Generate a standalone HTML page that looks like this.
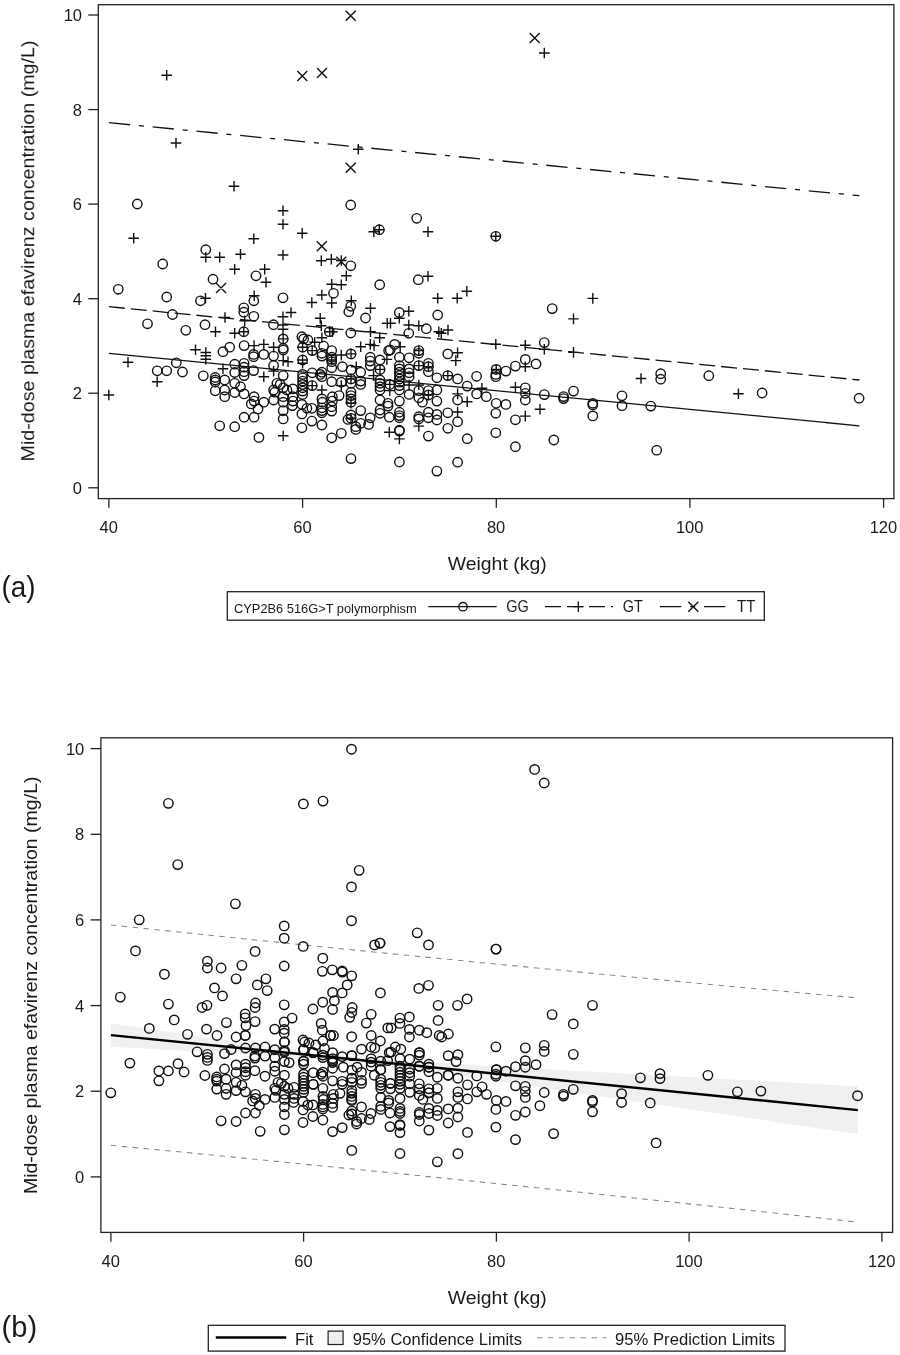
<!DOCTYPE html><html><head><meta charset="utf-8"><title>Chart</title><style>html,body{margin:0;padding:0;background:#fff}svg{display:block}text{font-family:"Liberation Sans",sans-serif;fill:#1a1a1a}</style></head><body>
<svg width="900" height="1355" viewBox="0 0 900 1355">
<rect width="900" height="1355" fill="#fff"/>
<g opacity="0.999">
<g fill="none" stroke="#111" stroke-width="1.3">
<line x1="108.9" y1="353.3" x2="859.4" y2="425.8"/>
<line x1="108.9" y1="306.7" x2="859.4" y2="380" stroke-dasharray="16 5.97"/>
<line x1="108.9" y1="122.7" x2="859.4" y2="195.7" stroke-dasharray="21.3 8.8 5.05 8.8"/>
</g>
<g fill="none" stroke="#111" stroke-width="1.4">
<circle cx="137.3" cy="204" r="4.7"/>
<circle cx="350.7" cy="205" r="4.7"/>
<circle cx="416.7" cy="218.3" r="4.7"/>
<circle cx="205.8" cy="249.7" r="4.7"/>
<circle cx="162.7" cy="264" r="4.7"/>
<circle cx="213" cy="279.2" r="4.7"/>
<circle cx="118.3" cy="289.3" r="4.7"/>
<circle cx="166.7" cy="297" r="4.7"/>
<circle cx="200.5" cy="300.8" r="4.7"/>
<circle cx="172.5" cy="314.5" r="4.7"/>
<circle cx="147.5" cy="323.8" r="4.7"/>
<circle cx="205" cy="324.7" r="4.7"/>
<circle cx="185.8" cy="330.3" r="4.7"/>
<circle cx="379.3" cy="229.7" r="4.7"/>
<circle cx="350.8" cy="265.8" r="4.7"/>
<circle cx="256" cy="275.8" r="4.7"/>
<circle cx="379.7" cy="284.7" r="4.7"/>
<circle cx="253.8" cy="300.8" r="4.7"/>
<circle cx="283" cy="297.8" r="4.7"/>
<circle cx="333.5" cy="293.3" r="4.7"/>
<circle cx="350.8" cy="306.3" r="4.7"/>
<circle cx="348.8" cy="311.7" r="4.7"/>
<circle cx="365.5" cy="318" r="4.7"/>
<circle cx="243.8" cy="307.8" r="4.7"/>
<circle cx="243.8" cy="312.2" r="4.7"/>
<circle cx="253.8" cy="316.3" r="4.7"/>
<circle cx="273.5" cy="324.7" r="4.7"/>
<circle cx="243.8" cy="331.7" r="4.7"/>
<circle cx="329.3" cy="331.7" r="4.7"/>
<circle cx="350.8" cy="333" r="4.7"/>
<circle cx="495.8" cy="236.3" r="4.7"/>
<circle cx="418.3" cy="279.7" r="4.7"/>
<circle cx="399.3" cy="312.5" r="4.7"/>
<circle cx="437.7" cy="315" r="4.7"/>
<circle cx="426.3" cy="328.7" r="4.7"/>
<circle cx="408.8" cy="333.3" r="4.7"/>
<circle cx="552.2" cy="308.6" r="4.7"/>
<circle cx="544.3" cy="342.6" r="4.7"/>
<circle cx="536" cy="363.9" r="4.7"/>
<circle cx="660.7" cy="373.7" r="4.7"/>
<circle cx="660.7" cy="379.2" r="4.7"/>
<circle cx="708.8" cy="375.7" r="4.7"/>
<circle cx="762.1" cy="393" r="4.7"/>
<circle cx="859.1" cy="398.2" r="4.7"/>
<circle cx="544.3" cy="394.6" r="4.7"/>
<circle cx="563.6" cy="396.6" r="4.7"/>
<circle cx="563.6" cy="398.6" r="4.7"/>
<circle cx="573.5" cy="391.1" r="4.7"/>
<circle cx="592.8" cy="403.3" r="4.7"/>
<circle cx="592.8" cy="404.9" r="4.7"/>
<circle cx="592.8" cy="415.9" r="4.7"/>
<circle cx="622" cy="395.8" r="4.7"/>
<circle cx="622" cy="405.7" r="4.7"/>
<circle cx="650.8" cy="406.1" r="4.7"/>
<circle cx="553.8" cy="440" r="4.7"/>
<circle cx="656.7" cy="450.2" r="4.7"/>
<circle cx="157.2" cy="370.8" r="4.7"/>
<circle cx="166.7" cy="370.8" r="4.7"/>
<circle cx="176.3" cy="362.8" r="4.7"/>
<circle cx="182.5" cy="372" r="4.7"/>
<circle cx="203.3" cy="375.8" r="4.7"/>
<circle cx="223" cy="351.7" r="4.7"/>
<circle cx="229.7" cy="347.2" r="4.7"/>
<circle cx="234.7" cy="364.2" r="4.7"/>
<circle cx="234.7" cy="372.5" r="4.7"/>
<circle cx="215.2" cy="377.5" r="4.7"/>
<circle cx="215.2" cy="380" r="4.7"/>
<circle cx="215.2" cy="382" r="4.7"/>
<circle cx="224.7" cy="380" r="4.7"/>
<circle cx="234.7" cy="383.3" r="4.7"/>
<circle cx="240.5" cy="386.7" r="4.7"/>
<circle cx="215.2" cy="390.8" r="4.7"/>
<circle cx="224.7" cy="390" r="4.7"/>
<circle cx="234.7" cy="392.5" r="4.7"/>
<circle cx="224.7" cy="396.7" r="4.7"/>
<circle cx="219.7" cy="425.8" r="4.7"/>
<circle cx="234.7" cy="426.7" r="4.7"/>
<circle cx="244.1" cy="345.6" r="4.7"/>
<circle cx="244.1" cy="363.3" r="4.7"/>
<circle cx="244.1" cy="367.2" r="4.7"/>
<circle cx="244.1" cy="371.7" r="4.7"/>
<circle cx="244.1" cy="375.6" r="4.7"/>
<circle cx="244.1" cy="393.9" r="4.7"/>
<circle cx="253.6" cy="354.4" r="4.7"/>
<circle cx="253.6" cy="356.7" r="4.7"/>
<circle cx="253.6" cy="370.6" r="4.7"/>
<circle cx="254.1" cy="396.7" r="4.7"/>
<circle cx="254.1" cy="401.1" r="4.7"/>
<circle cx="263.8" cy="354.4" r="4.7"/>
<circle cx="263.8" cy="402.2" r="4.7"/>
<circle cx="273.6" cy="356.1" r="4.7"/>
<circle cx="273.6" cy="365.6" r="4.7"/>
<circle cx="273.6" cy="390" r="4.7"/>
<circle cx="274.7" cy="392.2" r="4.7"/>
<circle cx="276.9" cy="383.3" r="4.7"/>
<circle cx="273.6" cy="400" r="4.7"/>
<circle cx="283.2" cy="338.9" r="4.7"/>
<circle cx="283.2" cy="348.3" r="4.7"/>
<circle cx="283.2" cy="350" r="4.7"/>
<circle cx="283.2" cy="375.6" r="4.7"/>
<circle cx="280.2" cy="384.4" r="4.7"/>
<circle cx="283.2" cy="387.8" r="4.7"/>
<circle cx="283.2" cy="396.7" r="4.7"/>
<circle cx="283.2" cy="402.2" r="4.7"/>
<circle cx="286.9" cy="390" r="4.7"/>
<circle cx="292.9" cy="388.9" r="4.7"/>
<circle cx="292.9" cy="396.7" r="4.7"/>
<circle cx="292.9" cy="401.1" r="4.7"/>
<circle cx="301.9" cy="336.7" r="4.7"/>
<circle cx="303.6" cy="338.9" r="4.7"/>
<circle cx="302.6" cy="347.2" r="4.7"/>
<circle cx="302.6" cy="360" r="4.7"/>
<circle cx="302.6" cy="374.4" r="4.7"/>
<circle cx="302.6" cy="377.8" r="4.7"/>
<circle cx="302.6" cy="381.1" r="4.7"/>
<circle cx="302.6" cy="384.4" r="4.7"/>
<circle cx="302.6" cy="387.8" r="4.7"/>
<circle cx="302.6" cy="391.1" r="4.7"/>
<circle cx="302.6" cy="394.4" r="4.7"/>
<circle cx="308" cy="340" r="4.7"/>
<circle cx="312.2" cy="350.6" r="4.7"/>
<circle cx="312.2" cy="372.8" r="4.7"/>
<circle cx="312.2" cy="385.6" r="4.7"/>
<circle cx="323.6" cy="346.1" r="4.7"/>
<circle cx="321.9" cy="353.3" r="4.7"/>
<circle cx="321.9" cy="356.1" r="4.7"/>
<circle cx="321.9" cy="372.2" r="4.7"/>
<circle cx="321.9" cy="376.7" r="4.7"/>
<circle cx="320.2" cy="374.4" r="4.7"/>
<circle cx="321.9" cy="398.9" r="4.7"/>
<circle cx="322.4" cy="402.2" r="4.7"/>
<circle cx="331.7" cy="350.6" r="4.7"/>
<circle cx="331.7" cy="357.2" r="4.7"/>
<circle cx="331.7" cy="359.4" r="4.7"/>
<circle cx="331.7" cy="361.7" r="4.7"/>
<circle cx="331.7" cy="367.8" r="4.7"/>
<circle cx="331.7" cy="381.7" r="4.7"/>
<circle cx="332.4" cy="396.7" r="4.7"/>
<circle cx="332.4" cy="401.1" r="4.7"/>
<circle cx="244.1" cy="417.2" r="4.7"/>
<circle cx="254.1" cy="417.2" r="4.7"/>
<circle cx="258" cy="408.9" r="4.7"/>
<circle cx="251.3" cy="403.9" r="4.7"/>
<circle cx="283.2" cy="410.6" r="4.7"/>
<circle cx="283.2" cy="418.9" r="4.7"/>
<circle cx="292.4" cy="405.6" r="4.7"/>
<circle cx="301.9" cy="404.4" r="4.7"/>
<circle cx="301.9" cy="413.9" r="4.7"/>
<circle cx="306.9" cy="408.3" r="4.7"/>
<circle cx="311.9" cy="408.3" r="4.7"/>
<circle cx="311.9" cy="421.1" r="4.7"/>
<circle cx="321.9" cy="425" r="4.7"/>
<circle cx="301.9" cy="427.8" r="4.7"/>
<circle cx="258.9" cy="437.4" r="4.7"/>
<circle cx="331.7" cy="437.8" r="4.7"/>
<circle cx="321.9" cy="407.8" r="4.7"/>
<circle cx="321.9" cy="410.6" r="4.7"/>
<circle cx="321.9" cy="412.8" r="4.7"/>
<circle cx="331.7" cy="406.7" r="4.7"/>
<circle cx="331.7" cy="411.1" r="4.7"/>
<circle cx="342.4" cy="366.7" r="4.7"/>
<circle cx="341.3" cy="382.2" r="4.7"/>
<circle cx="339.1" cy="395.6" r="4.7"/>
<circle cx="351" cy="353.9" r="4.7"/>
<circle cx="351" cy="370" r="4.7"/>
<circle cx="351" cy="378.9" r="4.7"/>
<circle cx="351" cy="383.3" r="4.7"/>
<circle cx="351" cy="392.2" r="4.7"/>
<circle cx="351" cy="395.6" r="4.7"/>
<circle cx="351" cy="398.9" r="4.7"/>
<circle cx="351" cy="402.2" r="4.7"/>
<circle cx="360.7" cy="372.2" r="4.7"/>
<circle cx="360.7" cy="381.1" r="4.7"/>
<circle cx="360.7" cy="384.4" r="4.7"/>
<circle cx="370.3" cy="357.2" r="4.7"/>
<circle cx="370.3" cy="361.1" r="4.7"/>
<circle cx="370.3" cy="365.6" r="4.7"/>
<circle cx="380" cy="360" r="4.7"/>
<circle cx="380" cy="369.4" r="4.7"/>
<circle cx="380" cy="380" r="4.7"/>
<circle cx="380" cy="383.3" r="4.7"/>
<circle cx="380" cy="386.7" r="4.7"/>
<circle cx="380" cy="390" r="4.7"/>
<circle cx="380" cy="400" r="4.7"/>
<circle cx="388.6" cy="350.6" r="4.7"/>
<circle cx="390.2" cy="350" r="4.7"/>
<circle cx="389.8" cy="384.4" r="4.7"/>
<circle cx="388" cy="403.3" r="4.7"/>
<circle cx="394.7" cy="344.4" r="4.7"/>
<circle cx="399.4" cy="357.2" r="4.7"/>
<circle cx="399.4" cy="365.6" r="4.7"/>
<circle cx="399.4" cy="368.9" r="4.7"/>
<circle cx="399.4" cy="372.2" r="4.7"/>
<circle cx="399.4" cy="375.6" r="4.7"/>
<circle cx="399.4" cy="378.9" r="4.7"/>
<circle cx="399.4" cy="382.2" r="4.7"/>
<circle cx="399.4" cy="385.6" r="4.7"/>
<circle cx="399.4" cy="390" r="4.7"/>
<circle cx="399.4" cy="401.1" r="4.7"/>
<circle cx="409.1" cy="357.8" r="4.7"/>
<circle cx="409.1" cy="368.9" r="4.7"/>
<circle cx="409.1" cy="372.8" r="4.7"/>
<circle cx="409.1" cy="376.7" r="4.7"/>
<circle cx="409.1" cy="394.4" r="4.7"/>
<circle cx="418.8" cy="350.6" r="4.7"/>
<circle cx="418.8" cy="353.3" r="4.7"/>
<circle cx="418.8" cy="365.6" r="4.7"/>
<circle cx="418.8" cy="390.6" r="4.7"/>
<circle cx="418.8" cy="397.8" r="4.7"/>
<circle cx="428.4" cy="363.3" r="4.7"/>
<circle cx="428.4" cy="366.7" r="4.7"/>
<circle cx="428.4" cy="371.7" r="4.7"/>
<circle cx="428.4" cy="390.6" r="4.7"/>
<circle cx="428.4" cy="395" r="4.7"/>
<circle cx="436.9" cy="377.8" r="4.7"/>
<circle cx="436.9" cy="390" r="4.7"/>
<circle cx="436.9" cy="401.1" r="4.7"/>
<circle cx="351" cy="415" r="4.7"/>
<circle cx="351" cy="418.3" r="4.7"/>
<circle cx="348" cy="419.4" r="4.7"/>
<circle cx="360.7" cy="410.6" r="4.7"/>
<circle cx="360.7" cy="423.3" r="4.7"/>
<circle cx="355.8" cy="426.7" r="4.7"/>
<circle cx="355.8" cy="429.4" r="4.7"/>
<circle cx="370.2" cy="417.8" r="4.7"/>
<circle cx="368.6" cy="424.4" r="4.7"/>
<circle cx="341.3" cy="433.3" r="4.7"/>
<circle cx="380" cy="410" r="4.7"/>
<circle cx="380" cy="413.3" r="4.7"/>
<circle cx="388" cy="406.1" r="4.7"/>
<circle cx="389.3" cy="417.2" r="4.7"/>
<circle cx="399.4" cy="412.2" r="4.7"/>
<circle cx="399.4" cy="415.6" r="4.7"/>
<circle cx="399.4" cy="417.8" r="4.7"/>
<circle cx="399.4" cy="431.1" r="4.7"/>
<circle cx="399.4" cy="430.2" r="4.7"/>
<circle cx="418.8" cy="416.7" r="4.7"/>
<circle cx="418.8" cy="418.9" r="4.7"/>
<circle cx="422.4" cy="402.2" r="4.7"/>
<circle cx="428.4" cy="412.2" r="4.7"/>
<circle cx="428.4" cy="417.8" r="4.7"/>
<circle cx="436.9" cy="414.4" r="4.7"/>
<circle cx="436.9" cy="420" r="4.7"/>
<circle cx="428.4" cy="436.1" r="4.7"/>
<circle cx="351" cy="458.6" r="4.7"/>
<circle cx="399.4" cy="462" r="4.7"/>
<circle cx="436.9" cy="471.1" r="4.7"/>
<circle cx="447.8" cy="353.9" r="4.7"/>
<circle cx="525.3" cy="359.4" r="4.7"/>
<circle cx="515.4" cy="366.1" r="4.7"/>
<circle cx="496.2" cy="369.4" r="4.7"/>
<circle cx="495.8" cy="374.4" r="4.7"/>
<circle cx="495.8" cy="376.7" r="4.7"/>
<circle cx="505.9" cy="371.1" r="4.7"/>
<circle cx="447.8" cy="375.6" r="4.7"/>
<circle cx="457.6" cy="378.9" r="4.7"/>
<circle cx="476.6" cy="376.3" r="4.7"/>
<circle cx="467.2" cy="386.1" r="4.7"/>
<circle cx="476.6" cy="393.9" r="4.7"/>
<circle cx="486.3" cy="396.7" r="4.7"/>
<circle cx="457.6" cy="400" r="4.7"/>
<circle cx="525.3" cy="387.8" r="4.7"/>
<circle cx="525.3" cy="393.3" r="4.7"/>
<circle cx="525.3" cy="400" r="4.7"/>
<circle cx="496.2" cy="403.3" r="4.7"/>
<circle cx="505.9" cy="404.4" r="4.7"/>
<circle cx="447.8" cy="412.8" r="4.7"/>
<circle cx="457.6" cy="421.7" r="4.7"/>
<circle cx="447.8" cy="428.3" r="4.7"/>
<circle cx="467.2" cy="438.7" r="4.7"/>
<circle cx="457.6" cy="462.2" r="4.7"/>
<circle cx="495.8" cy="413.3" r="4.7"/>
<circle cx="515.4" cy="419.8" r="4.7"/>
<circle cx="495.8" cy="432.8" r="4.7"/>
<circle cx="515.4" cy="446.7" r="4.7"/>
<path d="M161.4 75.3h10.6M166.7 70v10.6M170.7 143h10.6M176 137.7v10.6M353 149.3h10.6M358.3 144v10.6M228.7 186.3h10.6M234 181v10.6M277.7 210.7h10.6M283 205.4v10.6M277.7 224.3h10.6M283 219v10.6M539 53h10.6M544.3 47.7v10.6M128.4 238.3h10.6M133.7 233v10.6M200.5 257.2h10.6M205.8 251.9v10.6M214.4 257.2h10.6M219.7 251.9v10.6M235.2 254.2h10.6M240.5 248.9v10.6M229.4 269.2h10.6M234.7 263.9v10.6M200.2 298.3h10.6M205.5 293v10.6M219.7 317.5h10.6M225 312.2v10.6M210.2 331.7h10.6M215.5 326.4v10.6M229.4 333.3h10.6M234.7 328v10.6M296.9 233.3h10.6M302.2 228v10.6M374 229.7h10.6M379.3 224.4v10.6M368.5 231.7h10.6M373.8 226.4v10.6M248.5 238.8h10.6M253.8 233.5v10.6M277.7 255h10.6M283 249.7v10.6M316 260.8h10.6M321.3 255.5v10.6M326 259.2h10.6M331.3 253.9v10.6M336 260.5h10.6M341.3 255.2v10.6M259.4 269.2h10.6M264.7 263.9v10.6M260.7 282.2h10.6M266 276.9v10.6M341 275.8h10.6M346.3 270.5v10.6M326.4 284.2h10.6M331.7 278.9v10.6M336 284.7h10.6M341.3 279.4v10.6M248.9 295.8h10.6M254.2 290.5v10.6M316.5 295h10.6M321.8 289.7v10.6M306.5 302.5h10.6M311.8 297.2v10.6M326.4 303h10.6M331.7 297.7v10.6M346 300.8h10.6M351.3 295.5v10.6M365.2 308.3h10.6M370.5 303v10.6M239.4 320.8h10.6M244.7 315.5v10.6M285.7 312.5h10.6M291 307.2v10.6M277.7 316.7h10.6M283 311.4v10.6M314.9 318.3h10.6M320.2 313v10.6M277.7 325h10.6M283 319.7v10.6M277.7 329.2h10.6M283 323.9v10.6M238.5 331.7h10.6M243.8 326.4v10.6M316 325.8h10.6M321.3 320.5v10.6M324.4 331.7h10.6M329.7 326.4v10.6M365.2 331.7h10.6M370.5 326.4v10.6M381.9 323.3h10.6M387.2 318v10.6M422.7 231.7h10.6M428 226.4v10.6M490.5 236.3h10.6M495.8 231v10.6M422.7 276.3h10.6M428 271v10.6M461.5 291.3h10.6M466.8 286v10.6M432.4 298.3h10.6M437.7 293v10.6M451.9 298.3h10.6M457.2 293v10.6M403.5 311.2h10.6M408.8 305.9v10.6M394 318.3h10.6M399.3 313v10.6M385.2 323.3h10.6M390.5 318v10.6M403.5 325h10.6M408.8 319.7v10.6M413.5 325.8h10.6M418.8 320.5v10.6M433.5 331.7h10.6M438.8 326.4v10.6M442.7 330h10.6M448 324.7v10.6M587.5 298.4h10.6M592.8 293.1v10.6M568.2 318.9h10.6M573.5 313.6v10.6M539 349.3h10.6M544.3 344v10.6M568.2 352.4h10.6M573.5 347.1v10.6M635.7 378.5h10.6M641 373.2v10.6M733.1 393.8h10.6M738.4 388.5v10.6M534.7 409.2h10.6M540 403.9v10.6M103.5 395h10.6M108.8 389.7v10.6M122.7 362.2h10.6M128 356.9v10.6M151.9 381.7h10.6M157.2 376.4v10.6M190.2 349.7h10.6M195.5 344.4v10.6M200.5 352.5h10.6M205.8 347.2v10.6M200.5 355.8h10.6M205.8 350.5v10.6M200.5 359.2h10.6M205.8 353.9v10.6M217.7 368.7h10.6M223 363.4v10.6M248.8 345.6h10.6M254.1 340.3v10.6M258.5 344.4h10.6M263.8 339.1v10.6M258.5 376.7h10.6M263.8 371.4v10.6M268.3 347.2h10.6M273.6 341.9v10.6M268.3 371.1h10.6M273.6 365.8v10.6M277.9 338.9h10.6M283.2 333.6v10.6M277.9 360.6h10.6M283.2 355.3v10.6M282.7 361.7h10.6M288 356.4v10.6M297.3 347.2h10.6M302.6 341.9v10.6M297.3 360h10.6M302.6 354.7v10.6M297.3 363.3h10.6M302.6 358v10.6M306.9 350.6h10.6M312.2 345.3v10.6M309.4 342.2h10.6M314.7 336.9v10.6M306.9 385.6h10.6M312.2 380.3v10.6M316.6 337.8h10.6M321.9 332.5v10.6M316.6 390h10.6M321.9 384.7v10.6M327.1 331.7h10.6M332.4 326.4v10.6M326.4 360h10.6M331.7 354.7v10.6M277.9 435.8h10.6M283.2 430.5v10.6M336 355h10.6M341.3 349.7v10.6M336 385.6h10.6M341.3 380.3v10.6M345.7 353.9h10.6M351 348.6v10.6M345.7 378.9h10.6M351 373.6v10.6M351 366.7h10.6M356.3 361.4v10.6M355.4 346.7h10.6M360.7 341.4v10.6M365 344.4h10.6M370.3 339.1v10.6M368.3 375.6h10.6M373.6 370.3v10.6M368.8 345.6h10.6M374.1 340.3v10.6M374.4 337.8h10.6M379.7 332.5v10.6M374.7 369.4h10.6M380 364.1v10.6M381.6 359.4h10.6M386.9 354.1v10.6M384.5 384.4h10.6M389.8 379.1v10.6M384.5 390.6h10.6M389.8 385.3v10.6M394.9 346.7h10.6M400.2 341.4v10.6M403.8 385h10.6M409.1 379.7v10.6M413.5 350.6h10.6M418.8 345.3v10.6M413.5 365.6h10.6M418.8 360.3v10.6M413.5 385h10.6M418.8 379.7v10.6M423.1 366.7h10.6M428.4 361.4v10.6M423.1 395h10.6M428.4 389.7v10.6M345.7 403.3h10.6M351 398v10.6M345.7 418.3h10.6M351 413v10.6M384 432.2h10.6M389.3 426.9v10.6M394.1 438.9h10.6M399.4 433.6v10.6M413.5 426.1h10.6M418.8 420.8v10.6M436 333.3h10.6M441.3 328v10.6M490.5 344.2h10.6M495.8 338.9v10.6M520 345.3h10.6M525.3 340v10.6M452.3 352.8h10.6M457.6 347.5v10.6M450.5 360.6h10.6M455.8 355.3v10.6M520 366.7h10.6M525.3 361.4v10.6M490.9 369.4h10.6M496.2 364.1v10.6M442.5 375.6h10.6M447.8 370.3v10.6M476.6 388.3h10.6M481.9 383v10.6M452.3 393.9h10.6M457.6 388.6v10.6M461.9 401.7h10.6M467.2 396.4v10.6M510.1 387.2h10.6M515.4 381.9v10.6M452.3 412h10.6M457.6 406.7v10.6M520 416.1h10.6M525.3 410.8v10.6"/>
<path d="M345.7 10.7l10 10M345.7 20.7l10 -10M297.3 71l10 10M297.3 81l10 -10M317 68l10 10M317 78l10 -10M345.7 162.7l10 10M345.7 172.7l10 -10M529.7 33l10 10M529.7 43l10 -10M216 283l10 10M216 293l10 -10M316.8 241.3l10 10M316.8 251.3l10 -10M336.3 256.7l10 10M336.3 266.7l10 -10"/>
</g>
<rect x="98.3" y="4.7" width="795.6" height="493.9" fill="none" stroke="#222" stroke-width="1.3"/>
<g stroke="#222" stroke-width="1.3">
<line x1="88.3" y1="487.8" x2="98.3" y2="487.8"/>
<line x1="88.3" y1="393.2" x2="98.3" y2="393.2"/>
<line x1="88.3" y1="298.7" x2="98.3" y2="298.7"/>
<line x1="88.3" y1="204.1" x2="98.3" y2="204.1"/>
<line x1="88.3" y1="109.6" x2="98.3" y2="109.6"/>
<line x1="88.3" y1="15" x2="98.3" y2="15"/>
<line x1="108.9" y1="498.6" x2="108.9" y2="507.8"/>
<line x1="302.6" y1="498.6" x2="302.6" y2="507.8"/>
<line x1="496.3" y1="498.6" x2="496.3" y2="507.8"/>
<line x1="689.9" y1="498.6" x2="689.9" y2="507.8"/>
<line x1="883.6" y1="498.6" x2="883.6" y2="507.8"/>
</g>
<text x="82" y="493.7" font-size="16.5" text-anchor="end">0</text>
<text x="82" y="399.1" font-size="16.5" text-anchor="end">2</text>
<text x="82" y="304.6" font-size="16.5" text-anchor="end">4</text>
<text x="82" y="210" font-size="16.5" text-anchor="end">6</text>
<text x="82" y="115.5" font-size="16.5" text-anchor="end">8</text>
<text x="82" y="20.9" font-size="16.5" text-anchor="end">10</text>
<text x="108.7" y="532.8" font-size="16.5" text-anchor="middle">40</text>
<text x="302.4" y="532.8" font-size="16.5" text-anchor="middle">60</text>
<text x="496.1" y="532.8" font-size="16.5" text-anchor="middle">80</text>
<text x="689.7" y="532.8" font-size="16.5" text-anchor="middle">100</text>
<text x="883.4" y="532.8" font-size="16.5" text-anchor="middle">120</text>
<text x="497.2" y="570.2" font-size="18" text-anchor="middle" textLength="99" lengthAdjust="spacingAndGlyphs">Weight (kg)</text>
<text transform="translate(34.2 251) rotate(-90)" font-size="19" text-anchor="middle" textLength="421" lengthAdjust="spacingAndGlyphs">Mid-dose plasma efavirenz concentration (mg/L)</text>
<text x="1.6" y="597.1" font-size="29" textLength="34" lengthAdjust="spacingAndGlyphs">(a)</text>
<rect x="227.3" y="591.7" width="537" height="28.5" fill="#fff" stroke="#222" stroke-width="1.3"/>
<text x="234" y="613.3" font-size="13" textLength="182.7" lengthAdjust="spacingAndGlyphs">CYP2B6 516G&gt;T polymorphism</text>
<g fill="none" stroke="#111" stroke-width="1.3">
<line x1="428.3" y1="606.7" x2="496.7" y2="606.7"/><circle cx="463" cy="606.7" r="4.2"/>
<line x1="545" y1="606.7" x2="613" y2="606.7" stroke-dasharray="16 6"/><path d="M573 606.7h10.6M578.3 601.4000000000001v10.6"/>
<line x1="660" y1="606.7" x2="728" y2="606.7" stroke-dasharray="21.3 8.8 5.05 8.8"/><path d="M688.3 601.7l10 10M688.3 611.7l10 -10"/>
</g>
<text x="506.2" y="612.4" font-size="16.5" textLength="22.5" lengthAdjust="spacingAndGlyphs">GG</text>
<text x="622.8" y="612.4" font-size="16.5" textLength="20" lengthAdjust="spacingAndGlyphs">GT</text>
<text x="737" y="612.4" font-size="16.5" textLength="18.3" lengthAdjust="spacingAndGlyphs">TT</text>
<polygon points="110.9,1023.5 135,1027 159.1,1030.5 183.2,1033.9 207.3,1037.4 231.4,1040.8 255.5,1044.2 279.6,1047.5 303.6,1050.7 327.7,1053.7 351.8,1056.3 375.9,1058.5 400,1060.4 424.1,1062 448.2,1063.6 472.3,1065 496.4,1066.4 520.5,1067.8 544.6,1069.1 568.7,1070.5 592.8,1071.8 616.9,1073.1 641,1074.5 665.1,1075.8 689.1,1077.1 713.2,1078.4 737.3,1079.7 761.4,1081 785.5,1082.3 809.6,1083.6 833.7,1084.9 857.8,1086.2 857.8,1134 833.7,1130.4 809.6,1126.9 785.5,1123.4 761.4,1119.8 737.3,1116.3 713.2,1112.8 689.1,1109.2 665.1,1105.7 641,1102.2 616.9,1098.7 592.8,1095.2 568.7,1091.7 544.6,1088.2 520.5,1084.7 496.4,1081.2 472.3,1077.8 448.2,1074.4 424.1,1071.1 400,1067.9 375.9,1064.9 351.8,1062.3 327.7,1060.1 303.6,1058.2 279.6,1056.6 255.5,1055.1 231.4,1053.6 207.3,1052.2 183.2,1050.8 159.1,1049.5 135,1048.1 110.9,1046.8" fill="#f0f0f0"/>
<polyline points="110.9,925 135,927.5 159.1,930 183.2,932.5 207.3,935 231.4,937.5 255.5,940 279.6,942.4 303.6,944.9 327.7,947.3 351.8,949.8 375.9,952.2 400,954.6 424.1,957 448.2,959.3 472.3,961.7 496.4,964.1 520.5,966.4 544.6,968.7 568.7,971 592.8,973.4 616.9,975.6 641,977.9 665.1,980.2 689.1,982.5 713.2,984.7 737.3,987 761.4,989.2 785.5,991.4 809.6,993.6 833.7,995.8 857.8,998" fill="none" stroke="#8a8a8a" stroke-width="1.1" stroke-dasharray="5.5 5.4"/>
<polyline points="110.9,1145.3 135,1147.6 159.1,1149.9 183.2,1152.2 207.3,1154.6 231.4,1156.9 255.5,1159.3 279.6,1161.7 303.6,1164.1 327.7,1166.5 351.8,1168.9 375.9,1171.3 400,1173.7 424.1,1176.2 448.2,1178.6 472.3,1181.1 496.4,1183.6 520.5,1186.1 544.6,1188.6 568.7,1191.1 592.8,1193.6 616.9,1196.2 641,1198.7 665.1,1201.3 689.1,1203.9 713.2,1206.4 737.3,1209 761.4,1211.6 785.5,1214.3 809.6,1216.9 833.7,1219.5 857.8,1222.2" fill="none" stroke="#8a8a8a" stroke-width="1.1" stroke-dasharray="5.5 5.4"/>
<g fill="none" stroke="#111" stroke-width="1.45">
<circle cx="351.5" cy="749.2" r="4.7"/>
<circle cx="168.4" cy="803.3" r="4.7"/>
<circle cx="303.4" cy="803.9" r="4.7"/>
<circle cx="323" cy="801.1" r="4.7"/>
<circle cx="177.7" cy="864.6" r="4.7"/>
<circle cx="359.1" cy="870.3" r="4.7"/>
<circle cx="351.5" cy="886.9" r="4.7"/>
<circle cx="235.4" cy="903.8" r="4.7"/>
<circle cx="139.2" cy="919.8" r="4.7"/>
<circle cx="351.5" cy="920.7" r="4.7"/>
<circle cx="284.2" cy="925.9" r="4.7"/>
<circle cx="284.2" cy="938.2" r="4.7"/>
<circle cx="534.6" cy="769.4" r="4.7"/>
<circle cx="544.2" cy="783" r="4.7"/>
<circle cx="417.2" cy="932.8" r="4.7"/>
<circle cx="135.5" cy="950.9" r="4.7"/>
<circle cx="207.4" cy="961.2" r="4.7"/>
<circle cx="207.4" cy="968" r="4.7"/>
<circle cx="221.1" cy="968" r="4.7"/>
<circle cx="241.9" cy="965.3" r="4.7"/>
<circle cx="236.1" cy="978.8" r="4.7"/>
<circle cx="164.4" cy="974.2" r="4.7"/>
<circle cx="214.5" cy="987.9" r="4.7"/>
<circle cx="222.5" cy="995.9" r="4.7"/>
<circle cx="120.3" cy="997.1" r="4.7"/>
<circle cx="168.4" cy="1004.1" r="4.7"/>
<circle cx="202.1" cy="1007.5" r="4.7"/>
<circle cx="207" cy="1005.3" r="4.7"/>
<circle cx="174.2" cy="1019.9" r="4.7"/>
<circle cx="226.4" cy="1022.6" r="4.7"/>
<circle cx="149.3" cy="1028.4" r="4.7"/>
<circle cx="206.5" cy="1029.1" r="4.7"/>
<circle cx="187.5" cy="1034.3" r="4.7"/>
<circle cx="217" cy="1035.5" r="4.7"/>
<circle cx="236.1" cy="1037" r="4.7"/>
<circle cx="303.2" cy="946.4" r="4.7"/>
<circle cx="380" cy="943.1" r="4.7"/>
<circle cx="380" cy="943.1" r="4.7"/>
<circle cx="374.6" cy="944.9" r="4.7"/>
<circle cx="255.1" cy="951.4" r="4.7"/>
<circle cx="284.2" cy="966" r="4.7"/>
<circle cx="322.8" cy="958.2" r="4.7"/>
<circle cx="322.3" cy="971.3" r="4.7"/>
<circle cx="332.3" cy="969.8" r="4.7"/>
<circle cx="342.2" cy="972.1" r="4.7"/>
<circle cx="342.2" cy="971" r="4.7"/>
<circle cx="351.7" cy="975.8" r="4.7"/>
<circle cx="265.9" cy="978.8" r="4.7"/>
<circle cx="257.3" cy="984.9" r="4.7"/>
<circle cx="267.2" cy="990.6" r="4.7"/>
<circle cx="347.2" cy="984.9" r="4.7"/>
<circle cx="332.6" cy="992.4" r="4.7"/>
<circle cx="342.2" cy="992.9" r="4.7"/>
<circle cx="380.4" cy="992.9" r="4.7"/>
<circle cx="255.5" cy="1003" r="4.7"/>
<circle cx="255.1" cy="1007.5" r="4.7"/>
<circle cx="284.2" cy="1004.8" r="4.7"/>
<circle cx="322.8" cy="1002.2" r="4.7"/>
<circle cx="334.4" cy="1000.7" r="4.7"/>
<circle cx="312.9" cy="1009" r="4.7"/>
<circle cx="332.6" cy="1009.5" r="4.7"/>
<circle cx="352.2" cy="1007.5" r="4.7"/>
<circle cx="351.7" cy="1012.5" r="4.7"/>
<circle cx="349.7" cy="1017.3" r="4.7"/>
<circle cx="371.2" cy="1014.3" r="4.7"/>
<circle cx="366.3" cy="1023.1" r="4.7"/>
<circle cx="245.2" cy="1013.9" r="4.7"/>
<circle cx="245.2" cy="1017.8" r="4.7"/>
<circle cx="255.1" cy="1021.6" r="4.7"/>
<circle cx="246" cy="1025.6" r="4.7"/>
<circle cx="292.1" cy="1018.1" r="4.7"/>
<circle cx="284.2" cy="1021.9" r="4.7"/>
<circle cx="321.2" cy="1023.4" r="4.7"/>
<circle cx="274.7" cy="1029.1" r="4.7"/>
<circle cx="284.2" cy="1029.4" r="4.7"/>
<circle cx="284.2" cy="1033.2" r="4.7"/>
<circle cx="245.2" cy="1035.5" r="4.7"/>
<circle cx="245.2" cy="1035.5" r="4.7"/>
<circle cx="322.3" cy="1030.2" r="4.7"/>
<circle cx="330.3" cy="1035.5" r="4.7"/>
<circle cx="330.6" cy="1035.5" r="4.7"/>
<circle cx="351.7" cy="1036.7" r="4.7"/>
<circle cx="371.2" cy="1035.5" r="4.7"/>
<circle cx="387.8" cy="1027.9" r="4.7"/>
<circle cx="428.5" cy="944.9" r="4.7"/>
<circle cx="496" cy="949.1" r="4.7"/>
<circle cx="496" cy="949.1" r="4.7"/>
<circle cx="418.8" cy="988.4" r="4.7"/>
<circle cx="428.5" cy="985.3" r="4.7"/>
<circle cx="467.1" cy="998.9" r="4.7"/>
<circle cx="438.1" cy="1005.3" r="4.7"/>
<circle cx="457.5" cy="1005.3" r="4.7"/>
<circle cx="399.9" cy="1018.1" r="4.7"/>
<circle cx="409.4" cy="1016.9" r="4.7"/>
<circle cx="399.9" cy="1023.4" r="4.7"/>
<circle cx="438.1" cy="1020.4" r="4.7"/>
<circle cx="391.1" cy="1027.9" r="4.7"/>
<circle cx="409.4" cy="1029.4" r="4.7"/>
<circle cx="419.3" cy="1030.2" r="4.7"/>
<circle cx="426.8" cy="1032.7" r="4.7"/>
<circle cx="439.2" cy="1035.5" r="4.7"/>
<circle cx="448.4" cy="1034" r="4.7"/>
<circle cx="409.4" cy="1037" r="4.7"/>
<circle cx="592.5" cy="1005.3" r="4.7"/>
<circle cx="552.1" cy="1014.6" r="4.7"/>
<circle cx="573.3" cy="1023.9" r="4.7"/>
<circle cx="544.2" cy="1045.3" r="4.7"/>
<circle cx="544.2" cy="1051.4" r="4.7"/>
<circle cx="573.3" cy="1054.3" r="4.7"/>
<circle cx="536" cy="1064.6" r="4.7"/>
<circle cx="640.4" cy="1077.8" r="4.7"/>
<circle cx="660" cy="1073.6" r="4.7"/>
<circle cx="660" cy="1078.6" r="4.7"/>
<circle cx="707.9" cy="1075.3" r="4.7"/>
<circle cx="737.4" cy="1091.8" r="4.7"/>
<circle cx="760.9" cy="1091.1" r="4.7"/>
<circle cx="857.5" cy="1095.7" r="4.7"/>
<circle cx="544.2" cy="1092.5" r="4.7"/>
<circle cx="563.5" cy="1094.3" r="4.7"/>
<circle cx="563.5" cy="1096.1" r="4.7"/>
<circle cx="573.3" cy="1089.3" r="4.7"/>
<circle cx="592.5" cy="1100.4" r="4.7"/>
<circle cx="592.5" cy="1101.8" r="4.7"/>
<circle cx="592.5" cy="1111.8" r="4.7"/>
<circle cx="621.6" cy="1093.6" r="4.7"/>
<circle cx="621.6" cy="1102.5" r="4.7"/>
<circle cx="650.2" cy="1102.9" r="4.7"/>
<circle cx="539.9" cy="1105.7" r="4.7"/>
<circle cx="553.6" cy="1133.6" r="4.7"/>
<circle cx="656.1" cy="1142.9" r="4.7"/>
<circle cx="110.8" cy="1092.8" r="4.7"/>
<circle cx="129.9" cy="1063.1" r="4.7"/>
<circle cx="158.9" cy="1070.9" r="4.7"/>
<circle cx="168.4" cy="1070.9" r="4.7"/>
<circle cx="158.9" cy="1080.8" r="4.7"/>
<circle cx="178" cy="1063.7" r="4.7"/>
<circle cx="184.1" cy="1072" r="4.7"/>
<circle cx="197.1" cy="1051.8" r="4.7"/>
<circle cx="207.4" cy="1054.3" r="4.7"/>
<circle cx="207.4" cy="1057.4" r="4.7"/>
<circle cx="207.4" cy="1060.4" r="4.7"/>
<circle cx="204.9" cy="1075.5" r="4.7"/>
<circle cx="224.5" cy="1053.6" r="4.7"/>
<circle cx="231.1" cy="1049.5" r="4.7"/>
<circle cx="224.5" cy="1069" r="4.7"/>
<circle cx="236.1" cy="1064.9" r="4.7"/>
<circle cx="236.1" cy="1072.5" r="4.7"/>
<circle cx="216.7" cy="1077" r="4.7"/>
<circle cx="216.7" cy="1079.2" r="4.7"/>
<circle cx="216.7" cy="1081.1" r="4.7"/>
<circle cx="226.1" cy="1079.2" r="4.7"/>
<circle cx="236.1" cy="1082.3" r="4.7"/>
<circle cx="241.9" cy="1085.3" r="4.7"/>
<circle cx="216.7" cy="1089.1" r="4.7"/>
<circle cx="226.1" cy="1088.3" r="4.7"/>
<circle cx="236.1" cy="1090.6" r="4.7"/>
<circle cx="226.1" cy="1094.3" r="4.7"/>
<circle cx="221.1" cy="1120.8" r="4.7"/>
<circle cx="236.1" cy="1121.5" r="4.7"/>
<circle cx="245.5" cy="1048" r="4.7"/>
<circle cx="245.5" cy="1064.1" r="4.7"/>
<circle cx="245.5" cy="1067.7" r="4.7"/>
<circle cx="245.5" cy="1071.7" r="4.7"/>
<circle cx="245.5" cy="1075.2" r="4.7"/>
<circle cx="245.5" cy="1091.8" r="4.7"/>
<circle cx="255.4" cy="1048" r="4.7"/>
<circle cx="254.9" cy="1056.1" r="4.7"/>
<circle cx="254.9" cy="1058.1" r="4.7"/>
<circle cx="254.9" cy="1070.7" r="4.7"/>
<circle cx="255.4" cy="1094.3" r="4.7"/>
<circle cx="255.4" cy="1098.4" r="4.7"/>
<circle cx="265" cy="1047" r="4.7"/>
<circle cx="265" cy="1056.1" r="4.7"/>
<circle cx="265" cy="1076.2" r="4.7"/>
<circle cx="265" cy="1099.4" r="4.7"/>
<circle cx="274.8" cy="1049.6" r="4.7"/>
<circle cx="274.8" cy="1057.6" r="4.7"/>
<circle cx="274.8" cy="1066.2" r="4.7"/>
<circle cx="274.8" cy="1071.2" r="4.7"/>
<circle cx="274.8" cy="1088.3" r="4.7"/>
<circle cx="275.9" cy="1090.3" r="4.7"/>
<circle cx="278.1" cy="1082.3" r="4.7"/>
<circle cx="274.8" cy="1097.4" r="4.7"/>
<circle cx="284.4" cy="1042" r="4.7"/>
<circle cx="284.4" cy="1042" r="4.7"/>
<circle cx="284.4" cy="1050.6" r="4.7"/>
<circle cx="284.4" cy="1052.1" r="4.7"/>
<circle cx="284.4" cy="1061.6" r="4.7"/>
<circle cx="284.4" cy="1075.2" r="4.7"/>
<circle cx="281.4" cy="1083.3" r="4.7"/>
<circle cx="284.4" cy="1086.3" r="4.7"/>
<circle cx="284.4" cy="1094.3" r="4.7"/>
<circle cx="284.4" cy="1099.4" r="4.7"/>
<circle cx="289.1" cy="1062.6" r="4.7"/>
<circle cx="288" cy="1088.3" r="4.7"/>
<circle cx="294" cy="1087.3" r="4.7"/>
<circle cx="294" cy="1094.3" r="4.7"/>
<circle cx="294" cy="1098.4" r="4.7"/>
<circle cx="303" cy="1040" r="4.7"/>
<circle cx="304.6" cy="1042" r="4.7"/>
<circle cx="303.6" cy="1049.6" r="4.7"/>
<circle cx="303.6" cy="1049.6" r="4.7"/>
<circle cx="303.6" cy="1061.1" r="4.7"/>
<circle cx="303.6" cy="1061.1" r="4.7"/>
<circle cx="303.6" cy="1064.1" r="4.7"/>
<circle cx="303.6" cy="1074.2" r="4.7"/>
<circle cx="303.6" cy="1077.2" r="4.7"/>
<circle cx="303.6" cy="1080.3" r="4.7"/>
<circle cx="303.6" cy="1083.3" r="4.7"/>
<circle cx="303.6" cy="1086.3" r="4.7"/>
<circle cx="303.6" cy="1089.3" r="4.7"/>
<circle cx="303.6" cy="1092.3" r="4.7"/>
<circle cx="309" cy="1043" r="4.7"/>
<circle cx="313.2" cy="1052.6" r="4.7"/>
<circle cx="313.2" cy="1052.6" r="4.7"/>
<circle cx="315.7" cy="1045" r="4.7"/>
<circle cx="313.2" cy="1072.7" r="4.7"/>
<circle cx="313.2" cy="1084.3" r="4.7"/>
<circle cx="313.2" cy="1084.3" r="4.7"/>
<circle cx="322.9" cy="1041" r="4.7"/>
<circle cx="324.5" cy="1048.5" r="4.7"/>
<circle cx="322.9" cy="1055.1" r="4.7"/>
<circle cx="322.9" cy="1057.6" r="4.7"/>
<circle cx="322.9" cy="1072.2" r="4.7"/>
<circle cx="322.9" cy="1076.2" r="4.7"/>
<circle cx="321.2" cy="1074.2" r="4.7"/>
<circle cx="322.9" cy="1088.3" r="4.7"/>
<circle cx="322.9" cy="1096.4" r="4.7"/>
<circle cx="323.4" cy="1099.4" r="4.7"/>
<circle cx="333.4" cy="1035.5" r="4.7"/>
<circle cx="332.6" cy="1052.6" r="4.7"/>
<circle cx="332.6" cy="1058.6" r="4.7"/>
<circle cx="332.6" cy="1060.6" r="4.7"/>
<circle cx="332.6" cy="1062.6" r="4.7"/>
<circle cx="332.6" cy="1061.1" r="4.7"/>
<circle cx="332.6" cy="1068.2" r="4.7"/>
<circle cx="332.6" cy="1080.8" r="4.7"/>
<circle cx="333.4" cy="1094.3" r="4.7"/>
<circle cx="333.4" cy="1098.4" r="4.7"/>
<circle cx="245.5" cy="1113" r="4.7"/>
<circle cx="255.4" cy="1113" r="4.7"/>
<circle cx="259.3" cy="1105.4" r="4.7"/>
<circle cx="252.6" cy="1100.9" r="4.7"/>
<circle cx="284.4" cy="1106.9" r="4.7"/>
<circle cx="284.4" cy="1114.5" r="4.7"/>
<circle cx="293.6" cy="1102.4" r="4.7"/>
<circle cx="303" cy="1101.4" r="4.7"/>
<circle cx="303" cy="1109.9" r="4.7"/>
<circle cx="307.9" cy="1104.9" r="4.7"/>
<circle cx="312.9" cy="1104.9" r="4.7"/>
<circle cx="312.9" cy="1116.5" r="4.7"/>
<circle cx="322.9" cy="1120" r="4.7"/>
<circle cx="303" cy="1122.5" r="4.7"/>
<circle cx="260.2" cy="1131.3" r="4.7"/>
<circle cx="284.4" cy="1129.8" r="4.7"/>
<circle cx="332.6" cy="1131.6" r="4.7"/>
<circle cx="322.9" cy="1104.4" r="4.7"/>
<circle cx="322.9" cy="1106.9" r="4.7"/>
<circle cx="322.9" cy="1108.9" r="4.7"/>
<circle cx="332.6" cy="1103.4" r="4.7"/>
<circle cx="332.6" cy="1107.4" r="4.7"/>
<circle cx="342.2" cy="1056.6" r="4.7"/>
<circle cx="343.3" cy="1067.2" r="4.7"/>
<circle cx="342.2" cy="1081.3" r="4.7"/>
<circle cx="342.2" cy="1084.3" r="4.7"/>
<circle cx="340" cy="1093.3" r="4.7"/>
<circle cx="351.8" cy="1055.6" r="4.7"/>
<circle cx="351.8" cy="1055.6" r="4.7"/>
<circle cx="351.8" cy="1070.2" r="4.7"/>
<circle cx="351.8" cy="1078.2" r="4.7"/>
<circle cx="351.8" cy="1078.2" r="4.7"/>
<circle cx="351.8" cy="1082.3" r="4.7"/>
<circle cx="351.8" cy="1090.3" r="4.7"/>
<circle cx="351.8" cy="1093.3" r="4.7"/>
<circle cx="351.8" cy="1096.4" r="4.7"/>
<circle cx="351.8" cy="1099.4" r="4.7"/>
<circle cx="357.1" cy="1067.2" r="4.7"/>
<circle cx="361.5" cy="1049.1" r="4.7"/>
<circle cx="361.5" cy="1072.2" r="4.7"/>
<circle cx="361.5" cy="1080.3" r="4.7"/>
<circle cx="361.5" cy="1083.3" r="4.7"/>
<circle cx="371.1" cy="1047" r="4.7"/>
<circle cx="371.1" cy="1058.6" r="4.7"/>
<circle cx="371.1" cy="1062.1" r="4.7"/>
<circle cx="371.1" cy="1066.2" r="4.7"/>
<circle cx="374.3" cy="1075.2" r="4.7"/>
<circle cx="374.8" cy="1048" r="4.7"/>
<circle cx="380.4" cy="1041" r="4.7"/>
<circle cx="380.7" cy="1061.1" r="4.7"/>
<circle cx="380.7" cy="1069.7" r="4.7"/>
<circle cx="380.7" cy="1069.7" r="4.7"/>
<circle cx="380.7" cy="1079.2" r="4.7"/>
<circle cx="380.7" cy="1082.3" r="4.7"/>
<circle cx="380.7" cy="1085.3" r="4.7"/>
<circle cx="380.7" cy="1088.3" r="4.7"/>
<circle cx="380.7" cy="1097.4" r="4.7"/>
<circle cx="389.2" cy="1052.6" r="4.7"/>
<circle cx="390.9" cy="1052.1" r="4.7"/>
<circle cx="387.6" cy="1060.6" r="4.7"/>
<circle cx="390.4" cy="1083.3" r="4.7"/>
<circle cx="390.4" cy="1083.3" r="4.7"/>
<circle cx="390.4" cy="1088.8" r="4.7"/>
<circle cx="388.7" cy="1100.4" r="4.7"/>
<circle cx="395.3" cy="1047" r="4.7"/>
<circle cx="400.8" cy="1049.1" r="4.7"/>
<circle cx="400" cy="1058.6" r="4.7"/>
<circle cx="400" cy="1066.2" r="4.7"/>
<circle cx="400" cy="1069.2" r="4.7"/>
<circle cx="400" cy="1072.2" r="4.7"/>
<circle cx="400" cy="1075.2" r="4.7"/>
<circle cx="400" cy="1078.2" r="4.7"/>
<circle cx="400" cy="1081.3" r="4.7"/>
<circle cx="400" cy="1084.3" r="4.7"/>
<circle cx="400" cy="1088.3" r="4.7"/>
<circle cx="400" cy="1098.4" r="4.7"/>
<circle cx="409.7" cy="1059.1" r="4.7"/>
<circle cx="409.7" cy="1069.2" r="4.7"/>
<circle cx="409.7" cy="1072.7" r="4.7"/>
<circle cx="409.7" cy="1076.2" r="4.7"/>
<circle cx="409.7" cy="1083.8" r="4.7"/>
<circle cx="409.7" cy="1092.3" r="4.7"/>
<circle cx="419.3" cy="1052.6" r="4.7"/>
<circle cx="419.3" cy="1052.6" r="4.7"/>
<circle cx="419.3" cy="1055.1" r="4.7"/>
<circle cx="419.3" cy="1066.2" r="4.7"/>
<circle cx="419.3" cy="1066.2" r="4.7"/>
<circle cx="419.3" cy="1083.8" r="4.7"/>
<circle cx="419.3" cy="1088.8" r="4.7"/>
<circle cx="419.3" cy="1095.4" r="4.7"/>
<circle cx="428.9" cy="1064.1" r="4.7"/>
<circle cx="428.9" cy="1067.2" r="4.7"/>
<circle cx="428.9" cy="1067.2" r="4.7"/>
<circle cx="428.9" cy="1071.7" r="4.7"/>
<circle cx="428.9" cy="1088.8" r="4.7"/>
<circle cx="428.9" cy="1092.8" r="4.7"/>
<circle cx="428.9" cy="1092.8" r="4.7"/>
<circle cx="437.3" cy="1077.2" r="4.7"/>
<circle cx="437.3" cy="1088.3" r="4.7"/>
<circle cx="437.3" cy="1098.4" r="4.7"/>
<circle cx="351.8" cy="1100.4" r="4.7"/>
<circle cx="351.8" cy="1111" r="4.7"/>
<circle cx="351.8" cy="1114" r="4.7"/>
<circle cx="351.8" cy="1114" r="4.7"/>
<circle cx="348.9" cy="1115" r="4.7"/>
<circle cx="361.5" cy="1106.9" r="4.7"/>
<circle cx="361.5" cy="1118.5" r="4.7"/>
<circle cx="356.6" cy="1121.5" r="4.7"/>
<circle cx="356.6" cy="1124" r="4.7"/>
<circle cx="371" cy="1113.5" r="4.7"/>
<circle cx="369.3" cy="1119.5" r="4.7"/>
<circle cx="342.2" cy="1127.6" r="4.7"/>
<circle cx="380.7" cy="1106.4" r="4.7"/>
<circle cx="380.7" cy="1109.4" r="4.7"/>
<circle cx="388.7" cy="1102.9" r="4.7"/>
<circle cx="390" cy="1113" r="4.7"/>
<circle cx="400" cy="1108.4" r="4.7"/>
<circle cx="400" cy="1111.5" r="4.7"/>
<circle cx="400" cy="1113.5" r="4.7"/>
<circle cx="390" cy="1126.6" r="4.7"/>
<circle cx="400" cy="1125.5" r="4.7"/>
<circle cx="400" cy="1124.7" r="4.7"/>
<circle cx="400" cy="1132.6" r="4.7"/>
<circle cx="419.3" cy="1112.5" r="4.7"/>
<circle cx="419.3" cy="1114.5" r="4.7"/>
<circle cx="419.3" cy="1121" r="4.7"/>
<circle cx="422.9" cy="1099.4" r="4.7"/>
<circle cx="428.9" cy="1108.4" r="4.7"/>
<circle cx="428.9" cy="1113.5" r="4.7"/>
<circle cx="437.3" cy="1110.4" r="4.7"/>
<circle cx="437.3" cy="1115.5" r="4.7"/>
<circle cx="428.9" cy="1130.1" r="4.7"/>
<circle cx="351.8" cy="1150.4" r="4.7"/>
<circle cx="400" cy="1153.5" r="4.7"/>
<circle cx="437.3" cy="1161.8" r="4.7"/>
<circle cx="441.7" cy="1037" r="4.7"/>
<circle cx="495.9" cy="1046.8" r="4.7"/>
<circle cx="525.3" cy="1047.8" r="4.7"/>
<circle cx="448.2" cy="1055.6" r="4.7"/>
<circle cx="457.9" cy="1054.6" r="4.7"/>
<circle cx="456.1" cy="1061.6" r="4.7"/>
<circle cx="525.3" cy="1060.6" r="4.7"/>
<circle cx="515.5" cy="1066.7" r="4.7"/>
<circle cx="525.3" cy="1067.2" r="4.7"/>
<circle cx="496.4" cy="1069.7" r="4.7"/>
<circle cx="496.4" cy="1069.7" r="4.7"/>
<circle cx="495.9" cy="1074.2" r="4.7"/>
<circle cx="495.9" cy="1076.2" r="4.7"/>
<circle cx="506" cy="1071.2" r="4.7"/>
<circle cx="448.2" cy="1075.2" r="4.7"/>
<circle cx="448.2" cy="1075.2" r="4.7"/>
<circle cx="457.9" cy="1078.2" r="4.7"/>
<circle cx="476.8" cy="1075.9" r="4.7"/>
<circle cx="467.5" cy="1084.8" r="4.7"/>
<circle cx="482.1" cy="1086.8" r="4.7"/>
<circle cx="476.8" cy="1091.8" r="4.7"/>
<circle cx="486.5" cy="1094.3" r="4.7"/>
<circle cx="457.9" cy="1091.8" r="4.7"/>
<circle cx="457.9" cy="1097.4" r="4.7"/>
<circle cx="467.5" cy="1098.9" r="4.7"/>
<circle cx="515.5" cy="1085.8" r="4.7"/>
<circle cx="525.3" cy="1086.3" r="4.7"/>
<circle cx="525.3" cy="1091.3" r="4.7"/>
<circle cx="525.3" cy="1097.4" r="4.7"/>
<circle cx="496.4" cy="1100.4" r="4.7"/>
<circle cx="506" cy="1101.4" r="4.7"/>
<circle cx="448.2" cy="1108.9" r="4.7"/>
<circle cx="457.9" cy="1108.2" r="4.7"/>
<circle cx="457.9" cy="1117" r="4.7"/>
<circle cx="448.2" cy="1123" r="4.7"/>
<circle cx="467.5" cy="1132.4" r="4.7"/>
<circle cx="457.9" cy="1153.7" r="4.7"/>
<circle cx="495.9" cy="1109.4" r="4.7"/>
<circle cx="515.5" cy="1115.3" r="4.7"/>
<circle cx="525.3" cy="1112" r="4.7"/>
<circle cx="495.9" cy="1127.1" r="4.7"/>
<circle cx="515.5" cy="1139.6" r="4.7"/>
</g>
<line x1="110.9" y1="1035.1" x2="857.8" y2="1110.1" stroke="#000" stroke-width="2.4"/>
<rect x="100.9" y="737.8" width="791.7" height="494.6" fill="none" stroke="#222" stroke-width="1.3"/>
<g stroke="#222" stroke-width="1.3">
<line x1="90.6" y1="1176.9" x2="100.9" y2="1176.9"/>
<line x1="90.6" y1="1091.2" x2="100.9" y2="1091.2"/>
<line x1="90.6" y1="1005.6" x2="100.9" y2="1005.6"/>
<line x1="90.6" y1="919.9" x2="100.9" y2="919.9"/>
<line x1="90.6" y1="834.3" x2="100.9" y2="834.3"/>
<line x1="90.6" y1="748.6" x2="100.9" y2="748.6"/>
<line x1="110.9" y1="1232.4" x2="110.9" y2="1241.7"/>
<line x1="303.6" y1="1232.4" x2="303.6" y2="1241.7"/>
<line x1="496.4" y1="1232.4" x2="496.4" y2="1241.7"/>
<line x1="689.1" y1="1232.4" x2="689.1" y2="1241.7"/>
<line x1="881.9" y1="1232.4" x2="881.9" y2="1241.7"/>
</g>
<text x="84.3" y="1182.8" font-size="16.5" text-anchor="end">0</text>
<text x="84.3" y="1097.1" font-size="16.5" text-anchor="end">2</text>
<text x="84.3" y="1011.5" font-size="16.5" text-anchor="end">4</text>
<text x="84.3" y="925.8" font-size="16.5" text-anchor="end">6</text>
<text x="84.3" y="840.2" font-size="16.5" text-anchor="end">8</text>
<text x="84.3" y="754.5" font-size="16.5" text-anchor="end">10</text>
<text x="110.7" y="1266.5" font-size="16.5" text-anchor="middle">40</text>
<text x="303.4" y="1266.5" font-size="16.5" text-anchor="middle">60</text>
<text x="496.2" y="1266.5" font-size="16.5" text-anchor="middle">80</text>
<text x="688.9" y="1266.5" font-size="16.5" text-anchor="middle">100</text>
<text x="881.7" y="1266.5" font-size="16.5" text-anchor="middle">120</text>
<text x="497.2" y="1304.3" font-size="18" text-anchor="middle" textLength="99" lengthAdjust="spacingAndGlyphs">Weight (kg)</text>
<text transform="translate(36.7 985.3) rotate(-90)" font-size="19" text-anchor="middle" textLength="417.6" lengthAdjust="spacingAndGlyphs">Mid-dose plasma efavirenz concentration (mg/L)</text>
<text x="1.6" y="1337.2" font-size="29" textLength="35.6" lengthAdjust="spacingAndGlyphs">(b)</text>
<rect x="208.3" y="1325.3" width="576.7" height="25.8" fill="#fff" stroke="#222" stroke-width="1.3"/>
<line x1="215.8" y1="1337.6" x2="286.2" y2="1337.6" stroke="#000" stroke-width="2.5"/>
<text x="295" y="1345" font-size="16.5" textLength="18.5" lengthAdjust="spacingAndGlyphs">Fit</text>
<rect x="328.1" y="1331.1" width="15" height="13.4" fill="#eeeeee" stroke="#222" stroke-width="1.2"/>
<text x="352.7" y="1345" font-size="16.5" textLength="169.3" lengthAdjust="spacingAndGlyphs">95% Confidence Limits</text>
<line x1="537" y1="1337.7" x2="606.5" y2="1337.7" stroke="#8a8a8a" stroke-width="1.1" stroke-dasharray="5.5 5.4"/>
<text x="615.1" y="1345" font-size="16.5" textLength="160" lengthAdjust="spacingAndGlyphs">95% Prediction Limits</text>
</g></svg></body></html>
